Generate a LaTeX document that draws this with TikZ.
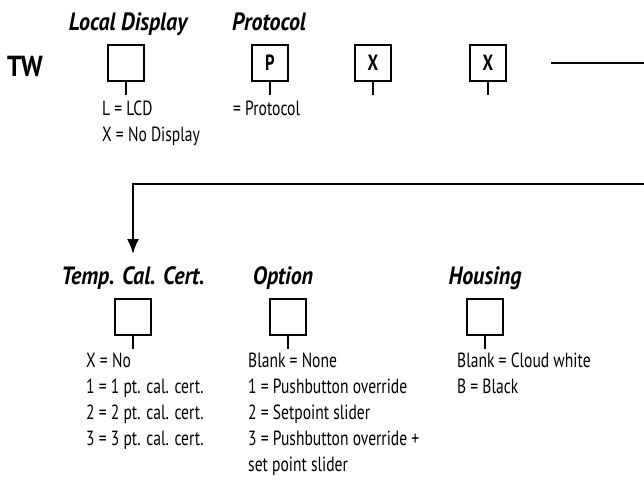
\documentclass[tikz,border=0pt]{standalone}
\usepackage{fontspec}
\setmainfont[FakeStretch=0.76]{PT Sans}
\newfontfamily\headfont[FakeStretch=0.88]{PT Sans}
\usetikzlibrary{arrows.meta,positioning}
\tikzset{>=latex}
\tikzset{%
    codebox/.style={draw,line width=2.4pt,minimum size=36pt,inner sep=0pt,%
        font=\fontsize{22}{22}\selectfont\bfseries},%
    ttl/.style={font=\fontsize{25}{25}\headfont\bfseries\itshape,inner sep=0pt},%
    lst/.style={anchor=north west,align=left,inner sep=0pt,%
        font=\fontsize{20.5}{26}\selectfont},%
    stem/.style={line width=2pt},%
    lead/.style={line width=2.2pt}%
}

\begin{document}
\begin{tikzpicture}[x=1pt,y=-1pt]
    \useasboundingbox (0,0) rectangle (644,479);
    % model code
    \node[anchor=base east,inner sep=0pt,font=\fontsize{29}{29}\headfont\bfseries] (tw) at (43,76) {TW};
    % top row of boxes
    \node[codebox] (disp) at (126,63) {};
    \node[codebox] (prot) at (270,63) {P};
    \node[codebox] (xa) at (373,63) {X};
    \node[codebox] (xb) at (488,63) {X};
    \node[ttl,anchor=base] (dispt) at (128,30) {Local Display};
    \node[ttl,anchor=base] (prott) at (269,30) {Protocol};
    \draw[stem] (disp.south) -- ++(0,13) coordinate (disps);
    \draw[stem] (prot.south) -- ++(0,13) coordinate (prots);
    \draw[stem] (xa.south) -- ++(0,13) coordinate (xas);
    \draw[stem] (xb.south) -- ++(0,13) coordinate (xbs);
    \node[lst] (displ) at (102,101) {L = LCD\\X = No Display};
    \node[lst] (protl) at (233,101) {= Protocol};
    % continuation
    \coordinate (ra) at (551,63);
    \coordinate (rb) at (644,63);
    \coordinate (rc) at (644,184);
    \coordinate (arr) at (133,254);
    \draw[lead] (ra) -- (rb);
    \draw[lead,-{Latex[length=15pt,width=12pt]}] (rc) -| (arr);
    % bottom row of boxes
    \node[codebox] (cal) at (133,317) {};
    \node[codebox] (opt) at (288,317) {};
    \node[codebox] (hous) at (485,317) {};
    \node[ttl,anchor=base] (calt) at (133,284) {Temp. Cal. Cert.};
    \node[ttl,anchor=base] (optt) at (283,284) {Option};
    \node[ttl,anchor=base] (houst) at (485,284) {Housing};
    \draw[stem] (cal.south) -- ++(0,13) coordinate (cals);
    \draw[stem] (opt.south) -- ++(0,13) coordinate (opts);
    \draw[stem] (hous.south) -- ++(0,13) coordinate (houss);
    \node[lst] (call) at (86,353) {X = No\\1 = 1 pt. cal. cert.\\2 = 2 pt. cal. cert.\\3 = 3 pt. cal. cert.};
    \node[lst] (optl) at (248,353) {Blank = None\\1 = Pushbutton override\\2 = Setpoint slider\\3 = Pushbutton override +\\set point slider};
    \node[lst] (housl) at (457,353) {Blank = Cloud white\\B = Black};
\end{tikzpicture}
\end{document}
